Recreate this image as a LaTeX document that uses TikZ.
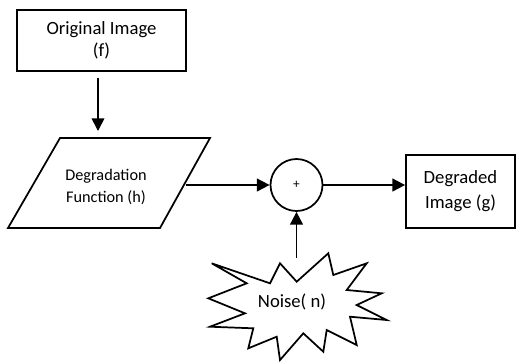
\documentclass[tikz,border=0pt]{standalone}
\usepackage{fontspec}
\setmainfont{Carlito}
\usetikzlibrary{arrows.meta}
\begin{document}
\begin{tikzpicture}[x=0.75pt,y=-0.75pt,line width=1.3pt,
  blockbox/.style={draw,rectangle,align=center,inner sep=0pt},
  flow/.style={-{Triangle[length=9.5pt,width=9.5pt]}},
  bigtext/.style={font=\fontsize{14}{16.5}\selectfont},
  midtext/.style={font=\fontsize{12.2}{16.5}\selectfont}]
\useasboundingbox (0,0) rectangle (516,362);

% input image block
\node[blockbox,bigtext,minimum width=126.75pt,minimum height=45.75pt]
  (orig) at (101.5,40.5) {Original Image\\(f)};

% degradation function (parallelogram)
\draw (60,138) -- (210,138) -- (160,228) -- (8,228) -- cycle;
\node[midtext,align=center] (deg) at (106,187) {Degradation\\Function (h)};
\coordinate (degtop) at (98,131);
\coordinate (degright) at (185.5,185);

% summing junction
\node[draw,circle,minimum size=39pt,inner sep=0pt,font=\fontsize{10}{12}\selectfont]
  (sum) at (296.5,185) {+};

% output image block
\node[blockbox,bigtext,minimum width=81.75pt,minimum height=54.75pt,
  font=\fontsize{14}{18.75}\selectfont]
  (gout) at (460.5,191.5) {Degraded\\Image (g)};

% noise burst
\draw (211.7,263.3) -- (270,283.3) -- (280,263.3) -- (296.7,281.7)
  -- (328.3,253.3) -- (333.3,275) -- (366.7,263.3) -- (346.7,290)
  -- (381.7,293.3) -- (356.7,305) -- (386.7,320) -- (350,316.7)
  -- (356.7,345) -- (326.7,330) -- (323.3,351.7) -- (303.3,333.3)
  -- (280,360) -- (276.7,336.7) -- (248.3,348.3) -- (253.3,328.3)
  -- (210,326.7) -- (245,313.3) -- (208.3,298.3) -- (246.7,283.3) -- cycle;
\node[bigtext] (noise) at (292,302) {Noise( n)};
\coordinate (noisetop) at (296.5,258);

% signal flow
\draw[flow] (orig.south -| degtop) ++(0,6) -- (degtop);
\draw[flow] (degright) -- (sum.west);
\draw[flow] (sum.east) -- (sum.east -| gout.west);
\draw[flow] (noisetop) -- (sum.south);
\end{tikzpicture}
\end{document}
